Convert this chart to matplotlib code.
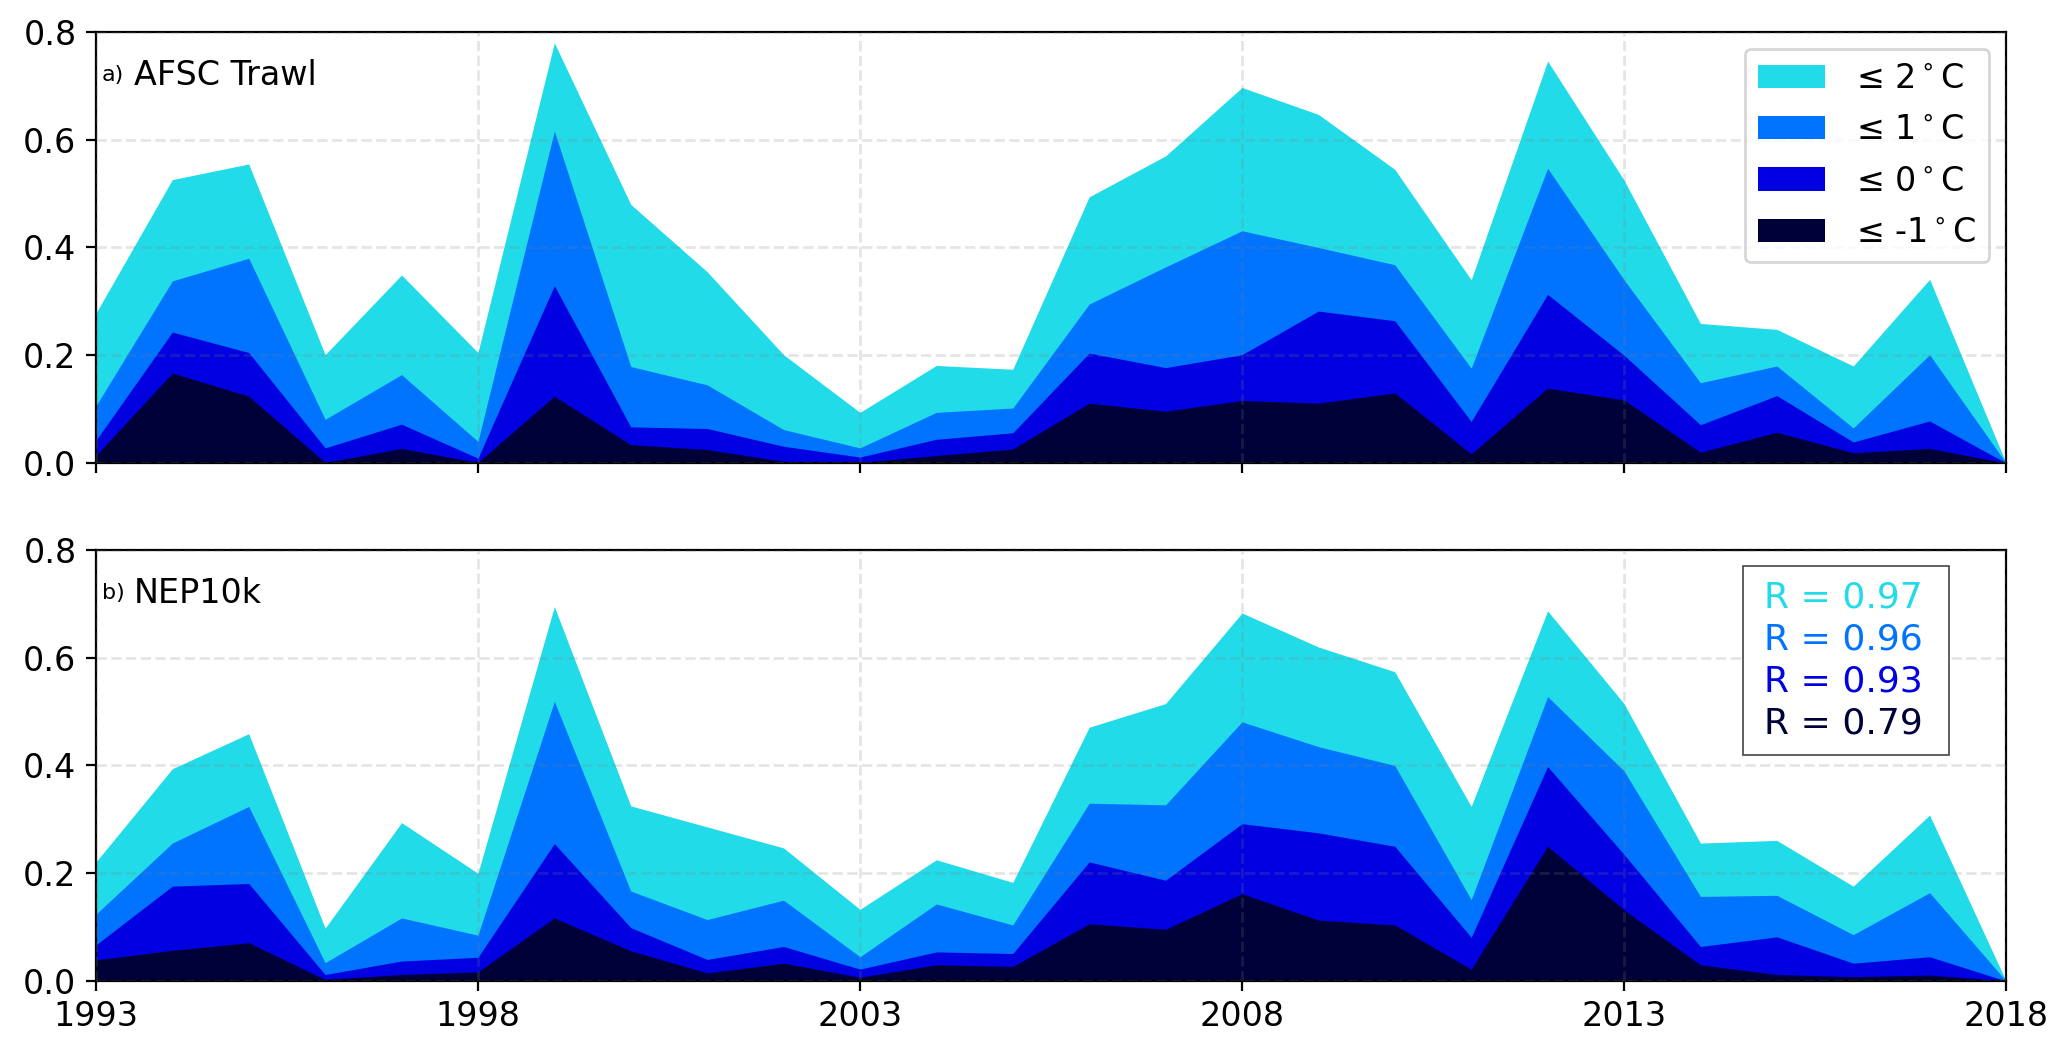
import matplotlib
matplotlib.use('Agg')
import matplotlib.pyplot as plt
import numpy as np

years = np.arange(1993, 2019)

# AFSC trawl: fraction of area at or below each temperature
trawl_le2 = [0.278, 0.526, 0.555, 0.201, 0.349, 0.205, 0.780, 0.480, 0.355, 0.201, 0.094, 0.181, 0.174,
             0.494, 0.570, 0.697, 0.647, 0.545, 0.340, 0.746, 0.525, 0.259, 0.248, 0.180, 0.341, 0.0]
trawl_le1 = [0.106, 0.338, 0.380, 0.081, 0.164, 0.040, 0.616, 0.179, 0.145, 0.062, 0.028, 0.094, 0.102,
             0.295, 0.364, 0.431, 0.400, 0.368, 0.176, 0.547, 0.340, 0.149, 0.180, 0.065, 0.201, 0.0]
trawl_le0 = [0.042, 0.243, 0.205, 0.028, 0.072, 0.009, 0.329, 0.067, 0.064, 0.031, 0.011, 0.044, 0.056,
             0.204, 0.177, 0.201, 0.282, 0.264, 0.077, 0.313, 0.200, 0.071, 0.125, 0.039, 0.078, 0.0]
trawl_lem1 = [0.014, 0.167, 0.124, 0.001, 0.027, 0.001, 0.124, 0.034, 0.025, 0.003, 0.001, 0.014, 0.026,
              0.111, 0.096, 0.116, 0.111, 0.130, 0.017, 0.139, 0.117, 0.020, 0.057, 0.019, 0.027, 0.0]

# NEP10k model
nep_le2 = [0.221, 0.394, 0.459, 0.098, 0.294, 0.200, 0.695, 0.325, 0.286, 0.247, 0.133, 0.225, 0.183,
           0.471, 0.515, 0.683, 0.620, 0.574, 0.324, 0.687, 0.515, 0.256, 0.261, 0.176, 0.308, 0.0]
nep_le1 = [0.124, 0.256, 0.324, 0.034, 0.117, 0.085, 0.519, 0.167, 0.114, 0.150, 0.045, 0.143, 0.104,
           0.330, 0.327, 0.481, 0.435, 0.400, 0.151, 0.528, 0.390, 0.157, 0.159, 0.086, 0.164, 0.0]
nep_le0 = [0.067, 0.176, 0.181, 0.012, 0.037, 0.044, 0.255, 0.099, 0.040, 0.064, 0.022, 0.054, 0.051,
           0.221, 0.187, 0.292, 0.275, 0.250, 0.081, 0.398, 0.235, 0.064, 0.082, 0.033, 0.045, 0.0]
nep_lem1 = [0.039, 0.057, 0.071, 0.003, 0.012, 0.017, 0.117, 0.056, 0.015, 0.033, 0.007, 0.030, 0.027,
            0.106, 0.096, 0.162, 0.113, 0.104, 0.022, 0.250, 0.132, 0.030, 0.012, 0.008, 0.011, 0.0]

labels = ['≤ 2$^\\circ$C', '≤ 1$^\\circ$C', '≤ 0$^\\circ$C', '≤ -1$^\\circ$C']
colors = ['#22dbe8', '#0073ff', '#0000e0', '#000038']
r_vals = [0.97, 0.96, 0.93, 0.79]

fig = plt.figure(figsize=(10.335, 5.26), dpi=200)
ax1 = fig.add_axes([0.0464, 0.5599, 0.9241, 0.4097])
ax2 = fig.add_axes([0.0464, 0.0675, 0.9241, 0.4097])

def draw_panel(ax, series, tag, name):
    for vals, c, lab in zip(series, colors, labels):
        ax.fill_between(years, 0, vals, color=c, lw=0, label=lab)
    ax.set_xlim(1993, 2018)
    ax.set_ylim(0, 0.8)
    ax.set_xticks(np.arange(1993, 2019, 5))
    ax.set_yticks([0.0, 0.2, 0.4, 0.6, 0.8])
    ax.grid(True, ls='--', color='gray', alpha=0.2, lw=1)
    ax.set_axisbelow(False)
    ax.tick_params(labelsize=12)
    ax.text(0.003, 0.9, tag, transform=ax.transAxes, fontsize=8, va='center')
    ax.text(0.02, 0.9, name, transform=ax.transAxes, fontsize=12, va='center')

draw_panel(ax1, [trawl_le2, trawl_le1, trawl_le0, trawl_lem1], 'a)', 'AFSC Trawl')
draw_panel(ax2, [nep_le2, nep_le1, nep_le0, nep_lem1], 'b)', 'NEP10k')
ax1.tick_params(labelbottom=False)

ax1.legend(loc='upper right', fontsize=12, handlelength=2.0, handleheight=0.7, labelspacing=0.55,
           borderpad=0.4, handletextpad=0.93)

hs = [plt.Line2D([], [], lw=0) for _ in r_vals]
leg = ax2.legend(hs, ['R = %.2f ' % r for r in r_vals], loc='upper right', bbox_to_anchor=(0.9702, 0.9629),
                 borderaxespad=0, fontsize=13, handlelength=0, handletextpad=0.2, fancybox=False,
                 edgecolor='#444444', framealpha=1, labelspacing=0.22, borderpad=0.4)
leg.get_frame().set_linewidth(0.6)
for t, c in zip(leg.get_texts(), colors):
    t.set_color(c)

plt.savefig('out.png', dpi=200)
